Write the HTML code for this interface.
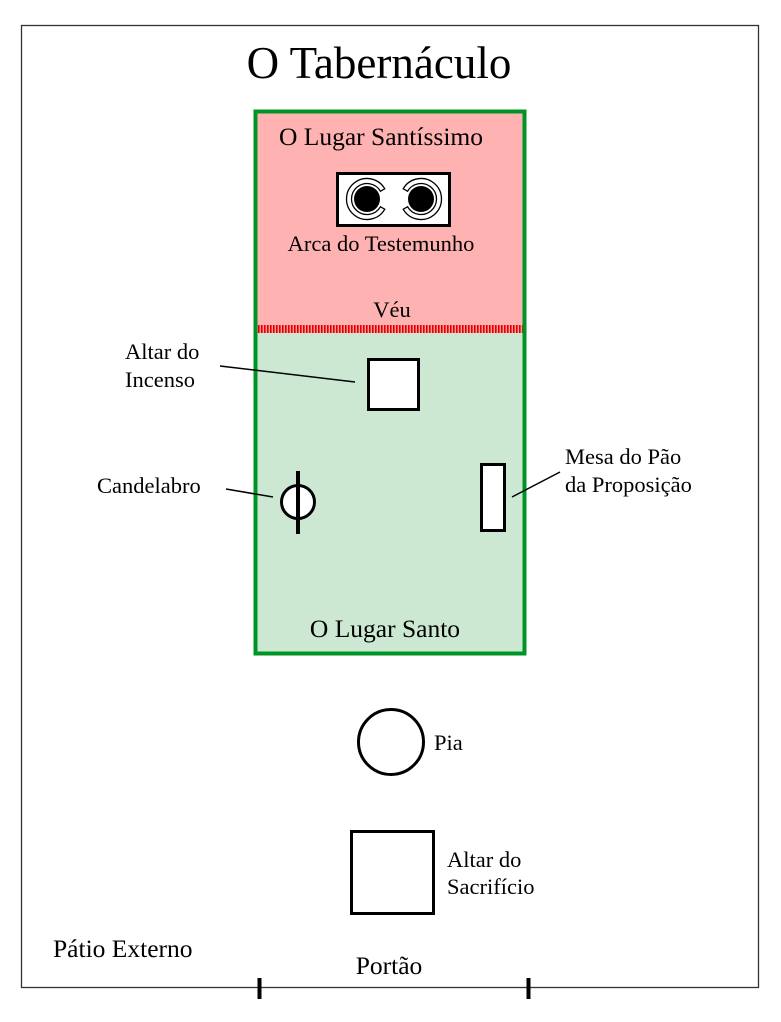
<!DOCTYPE html>
<html><head><meta charset="utf-8"><style>
html,body{margin:0;padding:0;background:#fff;}
svg{display:block;}
text{font-family:"Liberation Serif","DejaVu Serif",serif;fill:#000;}
</style></head><body>
<svg width="781" height="1022" viewBox="0 0 781 1022" xmlns="http://www.w3.org/2000/svg" font-family="Liberation Serif, DejaVu Serif, serif">
<defs>
<pattern id="veil" width="3" height="8" patternUnits="userSpaceOnUse">
<rect width="3" height="8" fill="#ff9a9a"/><rect width="1.6" height="8" fill="#e00000"/>
</pattern>
</defs>
<rect x="21.5" y="25.5" width="737" height="962" fill="#fff" stroke="#333" stroke-width="1.3"/>
<text x="379" y="78" font-size="45" text-anchor="middle">O Tabernáculo</text>
<rect x="256" y="112" width="268" height="213" fill="#ffb2b2"/>
<rect x="256" y="325" width="268" height="8" fill="url(#veil)"/>
<rect x="256" y="333" width="268" height="319" fill="#cce8d2"/>
<rect x="255.5" y="111.5" width="269" height="542" fill="none" stroke="#009426" stroke-width="4"/>
<text x="381" y="145" font-size="25.5" text-anchor="middle">O Lugar Santíssimo</text>
<rect x="337.5" y="173.5" width="112" height="52" fill="#fff" stroke="#000" stroke-width="3"/>
<path d="M384.8,188.8 A20.5,20.5 0 1 0 384.8,209.2 L380.4,206.8 A15.5,15.5 0 1 1 380.4,191.2 Z" fill="#fff" stroke="#000" stroke-width="1.3"/>
<circle cx="367" cy="199" r="13" fill="#000"/>
<path d="M403.2,188.8 A20.5,20.5 0 1 1 403.2,209.2 L407.6,206.8 A15.5,15.5 0 1 0 407.6,191.2 Z" fill="#fff" stroke="#000" stroke-width="1.3"/>
<circle cx="421" cy="199" r="13" fill="#000"/>
<text x="381" y="251" font-size="22.5" text-anchor="middle">Arca do Testemunho</text>
<text x="392" y="317" font-size="22.5" text-anchor="middle">Véu</text>
<rect x="368.5" y="359.5" width="50" height="50" fill="#fff" stroke="#000" stroke-width="3"/>
<line x1="220" y1="366" x2="355" y2="382" stroke="#000" stroke-width="1.5"/>
<text x="125" y="359" font-size="22.5">Altar do</text>
<text x="125" y="387" font-size="22.5">Incenso</text>
<circle cx="298" cy="502" r="16.5" fill="#fff" stroke="#000" stroke-width="3"/>
<line x1="298" y1="471" x2="298" y2="534" stroke="#000" stroke-width="4"/>
<line x1="226" y1="489" x2="273" y2="497" stroke="#000" stroke-width="1.5"/>
<text x="97" y="493" font-size="22.5">Candelabro</text>
<rect x="481.5" y="464.5" width="23" height="66" fill="#fff" stroke="#000" stroke-width="3"/>
<line x1="512" y1="497" x2="560" y2="472" stroke="#000" stroke-width="1.5"/>
<text x="565" y="464" font-size="22.5">Mesa do Pão</text>
<text x="565" y="492" font-size="22.5">da Proposição</text>
<text x="385" y="637" font-size="25.5" text-anchor="middle">O Lugar Santo</text>
<circle cx="391" cy="742" r="32.5" fill="#fff" stroke="#000" stroke-width="3"/>
<text x="434" y="750" font-size="22.5">Pia</text>
<rect x="351.5" y="831.5" width="82" height="82" fill="#fff" stroke="#000" stroke-width="3"/>
<text x="447" y="867" font-size="22.5">Altar do</text>
<text x="447" y="894" font-size="22.5">Sacrifício</text>
<text x="53" y="957" font-size="25.5">Pátio Externo</text>
<text x="389" y="974" font-size="25.5" text-anchor="middle">Portão</text>
<line x1="259.5" y1="978" x2="259.5" y2="999" stroke="#000" stroke-width="4"/>
<line x1="528.5" y1="978" x2="528.5" y2="999" stroke="#000" stroke-width="4"/>
</svg>
</body></html>
